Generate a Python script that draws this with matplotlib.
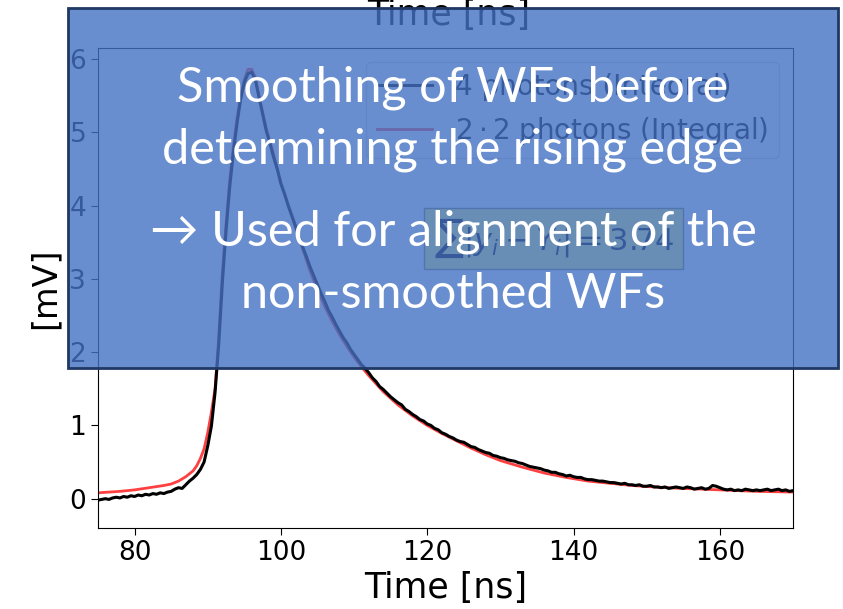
import numpy as np
import matplotlib.pyplot as plt
from matplotlib.patches import Rectangle

dpi = 100

# smoothed waveform (red)
t_smooth = [75, 78, 80, 82, 84, 85, 86, 87, 88, 88.5, 89, 89.5, 90, 90.5, 91, 91.5,
            92, 92.5, 93, 93.5, 94, 94.5, 95, 95.5, 96, 96.5, 97, 98, 99, 100, 101,
            102, 103, 104, 105, 106, 107, 108, 109, 110, 111, 112, 114, 116, 118,
            120, 122, 124, 126, 128, 130, 133, 136, 139, 142, 145, 148, 151, 155,
            160, 165, 170]
v_smooth = [0.08, 0.10, 0.12, 0.15, 0.18, 0.20, 0.24, 0.30, 0.38, 0.45, 0.55, 0.68,
            0.90, 1.18, 1.50, 2.20, 3.10, 3.75, 4.35, 4.80, 5.20, 5.50, 5.72, 5.86,
            5.86, 5.75, 5.50, 5.05, 4.70, 4.30, 4.00, 3.70, 3.40, 3.10, 2.85, 2.62,
            2.42, 2.24, 2.08, 1.93, 1.80, 1.68, 1.46, 1.28, 1.13, 1.00, 0.89, 0.79,
            0.69, 0.60, 0.52, 0.43, 0.35, 0.29, 0.24, 0.21, 0.18, 0.16, 0.14, 0.12,
            0.10, 0.09]

# raw waveform (black), sampled every 0.5 ns from 75 to 170 ns
t_raw = np.arange(75, 170.5, 0.5)
v_raw = [
    -0.02, -0.01, 0.00, -0.01, 0.01, 0.02, 0.01, 0.03, 0.02, 0.04,
    0.03, 0.05, 0.04, 0.06, 0.05, 0.07, 0.06, 0.08, 0.07, 0.09,
    0.10, 0.13, 0.15, 0.14, 0.19, 0.24, 0.28, 0.33, 0.40, 0.50,
    0.72, 0.99, 1.45, 2.10, 2.95, 3.65, 4.25, 4.72, 5.12, 5.45,
    5.68, 5.80, 5.82, 5.72, 5.48, 5.25, 5.02, 4.85, 4.66, 4.50,
    4.30, 4.16, 4.00, 3.86, 3.72, 3.57, 3.43, 3.30, 3.16, 3.04,
    2.92, 2.80, 2.69, 2.57, 2.48, 2.38, 2.29, 2.20, 2.13, 2.04,
    1.97, 1.90, 1.83, 1.78, 1.72, 1.65, 1.60, 1.53, 1.49, 1.44,
    1.39, 1.35, 1.31, 1.28, 1.22, 1.19, 1.15, 1.12, 1.08, 1.06,
    1.02, 1.00, 0.96, 0.94, 0.90, 0.88, 0.85, 0.83, 0.80, 0.78,
    0.77, 0.74, 0.71, 0.70, 0.67, 0.65, 0.63, 0.62, 0.59, 0.58,
    0.56, 0.55, 0.53, 0.52, 0.51, 0.49, 0.48, 0.46, 0.44, 0.43,
    0.42, 0.41, 0.39, 0.38, 0.36, 0.36, 0.34, 0.33, 0.31, 0.32,
    0.30, 0.29, 0.29, 0.27, 0.26, 0.26, 0.25, 0.24, 0.24, 0.23,
    0.22, 0.22, 0.21, 0.20, 0.21, 0.19, 0.19, 0.18, 0.19, 0.17,
    0.17, 0.18, 0.16, 0.16, 0.15, 0.16, 0.14, 0.15, 0.16, 0.15,
    0.14, 0.16, 0.15, 0.13, 0.14, 0.15, 0.13, 0.14, 0.18, 0.17,
    0.15, 0.13, 0.12, 0.13, 0.11, 0.12, 0.11, 0.13, 0.12, 0.11,
    0.12, 0.11, 0.12, 0.13, 0.11, 0.12, 0.13, 0.11, 0.12, 0.10,
    0.11]

labels = ['4 photons (Integral)', r'$2\cdot2$ photons (Integral)']
diff_text = r'$\sum|y_i - Y_i| = 3.74$'

overlay_lines = ['Smoothing of WFs before', 'determining the rising edge',
                 '\u2192 Used for alignment of the', 'non-smoothed WFs']

fig = plt.figure(figsize=(843 / dpi, 609 / dpi), dpi=dpi)
ax = fig.add_axes([98 / 843, 81 / 609, 695 / 843, 480 / 609])

ax.plot(t_raw, v_raw, color='black', lw=2.2, label=labels[0], zorder=3)
ax.plot(t_smooth, v_smooth, color='red', lw=2, alpha=0.75, label=labels[1], zorder=2)

ax.set_xlim(75, 170)
ax.set_ylim(-0.4, 6.15)
ax.set_yticks(range(0, 7))
ax.tick_params(labelsize=19, length=5)
ax.set_xlabel('Time [ns]', fontsize=25, labelpad=4)
ax.set_ylabel('[mV]', fontsize=24, labelpad=6)
ax.legend(loc='upper right', fontsize=20)
ax.text(0.656, 0.603, diff_text, transform=ax.transAxes, fontsize=22,
        ha='center', va='center',
        bbox=dict(boxstyle='square,pad=0.3', facecolor='yellow', alpha=0.5))

# x label of the panel above, cut off at the top of the slide
fig.text(449 / 843, 1 - 25 / 609, 'Time [ns]', fontsize=25, ha='center', va='baseline', zorder=1)

# slide overlay box
x0, x1 = 68 / 843, 838 / 843
y0, y1 = 1 - 368 / 609, 1 - 8 / 609
fig.patches.append(Rectangle((x0, y0), x1 - x0, y1 - y0, transform=fig.transFigure,
                             facecolor=(0x44 / 255, 0x72 / 255, 0xC4 / 255, 0.8),
                             edgecolor='#1F3864', lw=2, zorder=5))

baselines = [102, 163, 245, 308]
for line, yb in zip(overlay_lines, baselines):
    fig.text(453 / 843, 1 - yb / 609, line, color='white', fontsize=35,
             family=['Lato', 'DejaVu Sans'], ha='center', va='baseline', zorder=10)

plt.savefig('out.png', dpi=dpi)
